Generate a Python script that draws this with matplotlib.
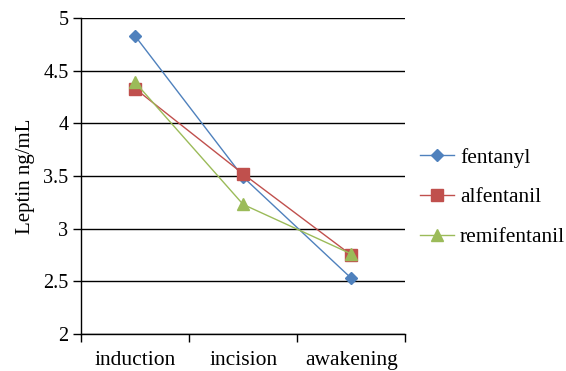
import matplotlib.pyplot as plt
from matplotlib.ticker import FixedLocator

plt.rcParams['font.family'] = 'Liberation Serif'

stages = ['induction', 'incision', 'awakening']
fentanyl = [4.83, 3.49, 2.53]
alfentanil = [4.33, 3.52, 2.75]
remifentanil = [4.39, 3.23, 2.76]

fig = plt.figure(figsize=(5.66, 3.71), dpi=100)
ax = fig.add_axes([0.143, 0.0997, 0.573, 0.852])

x = range(len(stages))
ax.plot(x, fentanyl, color='#4F81BD', marker='D', markersize=6, lw=1, label='fentanyl')
ax.plot(x, alfentanil, color='#C0504D', marker='s', markersize=8, lw=1, label='alfentanil')
ax.plot(x, remifentanil, color='#9BBB59', marker='^', markersize=8, lw=1, label='remifentanil')

ax.set_xlim(-0.5, 2.5)
ax.set_ylim(2, 5)
ax.set_yticks([2, 2.5, 3, 3.5, 4, 4.5, 5])
ax.set_yticklabels(['2', '2.5', '3', '3.5', '4', '4.5', '5'], fontsize=14.5)
ax.set_xticks(list(x))
ax.set_xticklabels(stages, fontsize=15.5)
ax.tick_params(axis='x', which='major', length=0, pad=12)
ax.xaxis.set_minor_locator(FixedLocator([-0.5, 0.5, 1.5, 2.5]))
ax.tick_params(axis='x', which='minor', length=6, width=1, color='black')
ax.tick_params(axis='y', length=6, width=1, color='black', pad=3)
ax.grid(axis='y', color='black', lw=1)
ax.set_axisbelow(True)

for s in ['top', 'right']:
    ax.spines[s].set_visible(False)
for s in ['left', 'bottom']:
    ax.spines[s].set_color('black')
    ax.spines[s].set_linewidth(1)

ax.set_ylabel('Leptin ng/mL', fontsize=15, labelpad=6)

ax.legend(loc='upper left', bbox_to_anchor=(1.046, 0.59), frameon=False,
          borderpad=0, borderaxespad=0, fontsize=15.5, handlelength=1.55,
          labelspacing=0.92, handletextpad=0.3)

fig.savefig('out.png', dpi=100)
